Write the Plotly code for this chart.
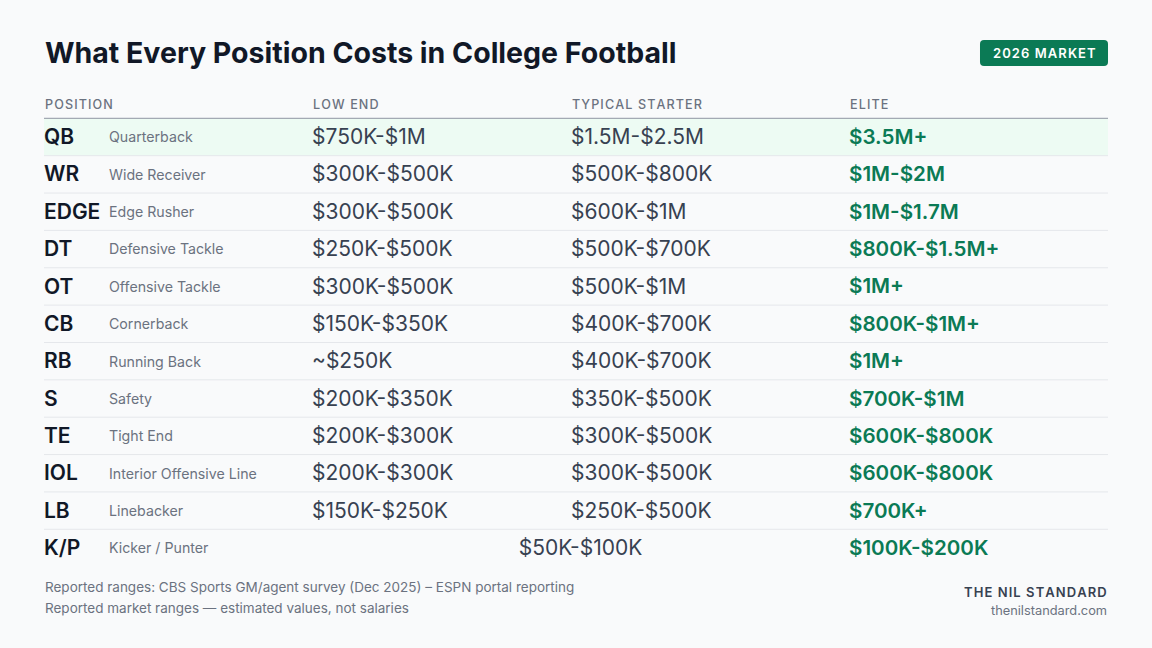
import plotly.graph_objects as go

# table content
positions = ["QB", "WR", "EDGE", "DT", "OT", "CB", "RB", "S", "TE", "IOL", "LB", "K/P"]
position_names = ["Quarterback", "Wide Receiver", "Edge Rusher", "Defensive Tackle",
                  "Offensive Tackle", "Cornerback", "Running Back", "Safety", "Tight End",
                  "Interior Offensive Line", "Linebacker", "Kicker / Punter"]
low_end = ["$750K-$1M", "$300K-$500K", "$300K-$500K", "$250K-$500K", "$300K-$500K",
           "$150K-$350K", "~$250K", "$200K-$350K", "$200K-$300K", "$200K-$300K",
           "$150K-$250K", ""]
typical_starter = ["$1.5M-$2.5M", "$500K-$800K", "$600K-$1M", "$500K-$700K", "$500K-$1M",
                   "$400K-$700K", "$400K-$700K", "$350K-$500K", "$300K-$500K", "$300K-$500K",
                   "$250K-$500K", "$50K-$100K"]
elite = ["$3.5M+", "$1M-$2M", "$1M-$1.7M", "$800K-$1.5M+", "$1M+", "$800K-$1M+", "$1M+",
         "$700K-$1M", "$600K-$800K", "$600K-$800K", "$700K+", "$100K-$200K"]
headers = ["POSITION", "LOW END", "TYPICAL STARTER", "ELITE"]
highlight_row = "QB"

title = "What Every Position Costs in College Football"
badge = "2026 MARKET"
source_lines = ["Reported ranges: CBS Sports GM/agent survey (Dec 2025) \u2013 ESPN portal reporting",
                "Reported market ranges \u2014 estimated values, not salaries"]
brand = "THE NIL STANDARD"
site = "thenilstandard.com"

W, H = 1152, 648
FONT = "Inter"
BG = "#f9fafb"
GREEN = "#0b7a55"
INK = "#111827"
BODY = "#374151"
MUTED = "#6b7280"

# column x positions (px)
X_ABBR, X_NAME, X_LOW, X_TYP, X_ELITE = 44, 109, 312, 571, 849
LEFT, RIGHT = 44, 1108
ROW0, ROW_H = 137, 37.36
TEXT_DY = 0.05  # nudge row text down a touch (row units)


def spaced(s):
    # fake letter spacing with hair spaces
    return "\u200a".join(s)


def py(px):
    return 1 - px / H


n = len(positions)
y_lo = -ROW0 / ROW_H
y_hi = (H - ROW0) / ROW_H
rows_y = [i + TEXT_DY for i in range(n)]

fig = go.Figure()


def text_trace(xs, texts, size, color, weight, anchor="middle right"):
    fig.add_trace(go.Scatter(
        x=xs, y=rows_y, text=texts, mode="text", textposition=anchor,
        textfont=dict(family=FONT, size=size, color=color, weight=weight),
        hoverinfo="skip", showlegend=False, cliponaxis=False))


text_trace([X_ABBR] * n, positions, 21, INK, 600)
text_trace([X_NAME] * n, position_names, 14.2, MUTED, 400)
text_trace([X_LOW] * n, low_end, 21, BODY, 400)

# typical starter; rows with no low end are centred across both columns
typ_x = [X_TYP if lo else (X_LOW + X_ELITE) / 2 for lo in low_end]
typ_pos = ["middle right" if lo else "middle center" for lo in low_end]
text_trace(typ_x, typical_starter, 21, BODY, 400, typ_pos)

text_trace([X_ELITE] * n, elite, 20.6, GREEN, 600)

shapes = []
hi = positions.index(highlight_row)
shapes.append(dict(type="rect", xref="x", yref="y", x0=LEFT, x1=RIGHT,
                   y0=hi - 0.5, y1=hi + 0.5, fillcolor="#edfbf3", line_width=0, layer="below"))
for i in range(n - 1):
    shapes.append(dict(type="line", xref="x", yref="y", x0=LEFT, x1=RIGHT,
                       y0=i + 0.5, y1=i + 0.5, line=dict(color="#e5e7eb", width=1)))
shapes.append(dict(type="line", xref="x", yref="y", x0=LEFT, x1=RIGHT,
                   y0=-0.5, y1=-0.5, line=dict(color="#a3a9b3", width=1.2)))

# rounded badge
bx0, bx1, by0, by1, r = 980, 1108, 40, 66, 4
def P(x, y):
    return f"{x / W:.5f},{py(y):.5f}"
badge_path = (f"M {P(bx0 + r, by0)} L {P(bx1 - r, by0)} Q {P(bx1, by0)} {P(bx1, by0 + r)} "
              f"L {P(bx1, by1 - r)} Q {P(bx1, by1)} {P(bx1 - r, by1)} "
              f"L {P(bx0 + r, by1)} Q {P(bx0, by1)} {P(bx0, by1 - r)} "
              f"L {P(bx0, by0 + r)} Q {P(bx0, by0)} {P(bx0 + r, by0)} Z")
shapes.append(dict(type="path", xref="paper", yref="paper", path=badge_path,
                   fillcolor=GREEN, line_width=0))

annotations = [
    dict(text=title, x=LEFT / W, y=py(52), xanchor="left", yanchor="middle",
         font=dict(family=FONT, size=28.5, color=INK, weight=700)),
    dict(text=spaced(badge), x=(bx0 + bx1) / 2 / W, y=py(53), xanchor="center", yanchor="middle",
         font=dict(family=FONT, size=13, color="white", weight=600)),
    dict(text=source_lines[0], x=LEFT / W, y=py(587), xanchor="left", yanchor="middle",
         font=dict(family=FONT, size=13.5, color=MUTED)),
    dict(text=source_lines[1], x=LEFT / W, y=py(608), xanchor="left", yanchor="middle",
         font=dict(family=FONT, size=13.5, color=MUTED)),
    dict(text=spaced(brand), x=RIGHT / W, y=py(592), xanchor="right", yanchor="middle",
         font=dict(family=FONT, size=13, color=BODY, weight=600)),
    dict(text=site, x=RIGHT / W, y=py(610), xanchor="right", yanchor="middle",
         font=dict(family=FONT, size=12.8, color=MUTED)),
]
for hx, h in zip([X_ABBR, X_LOW, X_TYP, X_ELITE], headers):
    annotations.append(dict(text=spaced(h), x=hx / W, y=py(104), xanchor="left", yanchor="middle",
                            font=dict(family=FONT, size=12.6, color=MUTED, weight=500)))
for a in annotations:
    a.update(xref="paper", yref="paper", showarrow=False, borderpad=0)

fig.update_layout(
    width=W, height=H, margin=dict(l=0, r=0, t=0, b=0),
    paper_bgcolor=BG, plot_bgcolor=BG,
    xaxis=dict(range=[0, W], visible=False, fixedrange=True),
    yaxis=dict(range=[y_hi, y_lo], visible=False, fixedrange=True),
    shapes=shapes, annotations=annotations,
)

# drop the default 8px page margin so the figure fills the window
fig.write_html("out.html", config={"displayModeBar": False},
               post_script="document.body.style.margin='0';document.body.style.background='%s';" % BG)
